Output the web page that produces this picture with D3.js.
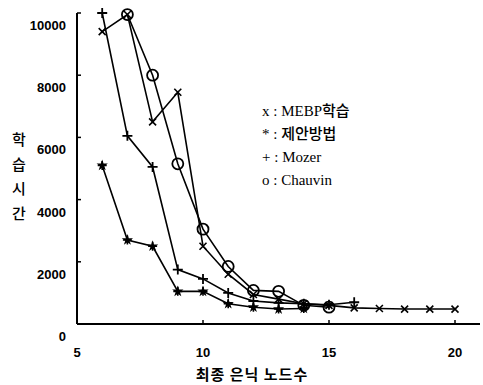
<!DOCTYPE html>
<html><head><meta charset="utf-8">
<script src="https://cdn.jsdelivr.net/npm/d3@7"></script>
<style>body{margin:0;background:#fff}svg{display:block}</style>
</head><body>
<svg id="c" width="483" height="385"></svg>
<script>
const mebpX = [6,7,8,9,10,11,12,13,14,15,16,17,18,19,20];
const mebpY = [9400,9950,6500,7450,2500,1600,950,800,650,600,520,500,480,480,480];
const propX = [6,7,8,9,10,11,12,13,14];
const propY = [5100,2700,2500,1050,1050,650,540,480,500];
const mozerX = [6,7,8,9,10,11,12,13,14,15,16];
const mozerY = [10000,6050,5050,1750,1450,1000,740,680,650,620,700];
const chauX = [7,8,9,10,11,12,13,14,15];
const chauY = [9950,8000,5150,3050,1850,1080,1050,600,540];
const xTicks = [5,10,15,20];
const yTicks = [0,2000,4000,6000,8000,10000];
const legendLabels = ["x : MEBP학습","* : 제안방법","+ : Mozer","o : Chauvin"];
const yTitle = ["학","습","시","간"];
const xTitle = "최종 은닉 노드수";

const svg = d3.select("#c");
const x = d3.scaleLinear().domain([5,20]).range([77,455]);
const y = d3.scaleLinear().domain([0,10000]).range([324,13]);
const numFont = "'Liberation Sans Narrow','Liberation Sans',Arial,sans-serif";
const cjk = "'Noto Sans CJK KR','Noto Sans',sans-serif";

// axes
svg.append("line").attr("x1",x(5)).attr("x2",480).attr("y1",y(0)).attr("y2",y(0))
  .attr("stroke","#000").attr("stroke-width",2);
svg.append("line").attr("x1",x(5)).attr("x2",x(5)).attr("y1",y(0)).attr("y2",y(10000))
  .attr("stroke","#000").attr("stroke-width",2);
// y ticks
svg.selectAll(".yt").data(yTicks).enter().append("line")
  .attr("x1",x(5)).attr("x2",x(5)+4).attr("y1",d=>y(d)).attr("y2",d=>y(d))
  .attr("stroke","#000").attr("stroke-width",1.5);
svg.selectAll(".yl").data(yTicks).enter().append("text")
  .attr("x",66).attr("y",d=>y(d)+17).attr("text-anchor","end")
  .attr("font-family",numFont).attr("font-size",13).attr("font-weight","bold")
  .attr("font-stretch","condensed").text(d=>d);
// x ticks
svg.selectAll(".xt").data(xTicks).enter().append("line")
  .attr("x1",d=>x(d)).attr("x2",d=>x(d)).attr("y1",y(0)).attr("y2",y(0)-4)
  .attr("stroke","#000").attr("stroke-width",1.5);
svg.selectAll(".xl").data(xTicks).enter().append("text")
  .attr("x",d=>x(d)).attr("y",357).attr("text-anchor","middle")
  .attr("font-family",numFont).attr("font-size",13).attr("font-weight","bold")
  .text(d=>d);
// titles
svg.selectAll(".ytt").data(yTitle).enter().append("text")
  .attr("x",19).attr("y",(d,i)=>145+i*24.5).attr("text-anchor","middle")
  .attr("font-family",cjk).attr("font-size",15).attr("font-weight",500).text(d=>d);
svg.append("text").attr("x",252).attr("y",380).attr("text-anchor","middle")
  .attr("font-family",cjk).attr("font-size",15).attr("font-weight","bold")
  .attr("letter-spacing",1).text(xTitle);

const line = d3.line().x(d=>x(d[0])).y(d=>y(d[1]));
const series = [
  {xs:mebpX, ys:mebpY, m:"x"},
  {xs:propX, ys:propY, m:"*"},
  {xs:mozerX, ys:mozerY, m:"+"},
  {xs:chauX, ys:chauY, m:"o"}
];
series.forEach(s=>{
  const pts = s.xs.map((v,i)=>[v,s.ys[i]]);
  svg.append("path").attr("d",line(pts)).attr("fill","none")
    .attr("stroke","#000").attr("stroke-width",1.6);
  const g = svg.append("g");
  pts.forEach(p=>{
    const cx = x(p[0]), cy = y(p[1]);
    if (s.m==="o") {
      g.append("circle").attr("cx",cx).attr("cy",cy).attr("r",5.5)
        .attr("fill","none").attr("stroke","#000").attr("stroke-width",1.8);
    } else if (s.m==="x") {
      const r=3.5;
      g.append("path").attr("d",`M${cx-r},${cy-r}L${cx+r},${cy+r}M${cx-r},${cy+r}L${cx+r},${cy-r}`)
        .attr("stroke","#000").attr("stroke-width",1.6);
    } else if (s.m==="+") {
      const r=5;
      g.append("path").attr("d",`M${cx-r},${cy}L${cx+r},${cy}M${cx},${cy-r}L${cx},${cy+r}`)
        .attr("stroke","#000").attr("stroke-width",1.8);
    } else {
      g.append("path").attr("d",d3.symbol(d3.symbolStar,40)()).attr("transform",`translate(${cx},${cy})`)
        .attr("fill","#000");
      const r=4.5;
      g.append("path").attr("d",`M${cx-r},${cy}L${cx+r},${cy}M${cx},${cy-r}L${cx},${cy+r}`)
        .attr("stroke","#000").attr("stroke-width",1.6);
    }
  });
});
// legend
svg.selectAll(".lg").data(legendLabels).enter().append("text")
  .attr("x",262).attr("y",(d,i)=>[116,139,162,185][i])
  .attr("font-family","'Liberation Serif','Times New Roman','Noto Sans CJK KR',serif")
  .attr("font-size",15).attr("font-weight",500).text(d=>d);
</script>
</body></html>
